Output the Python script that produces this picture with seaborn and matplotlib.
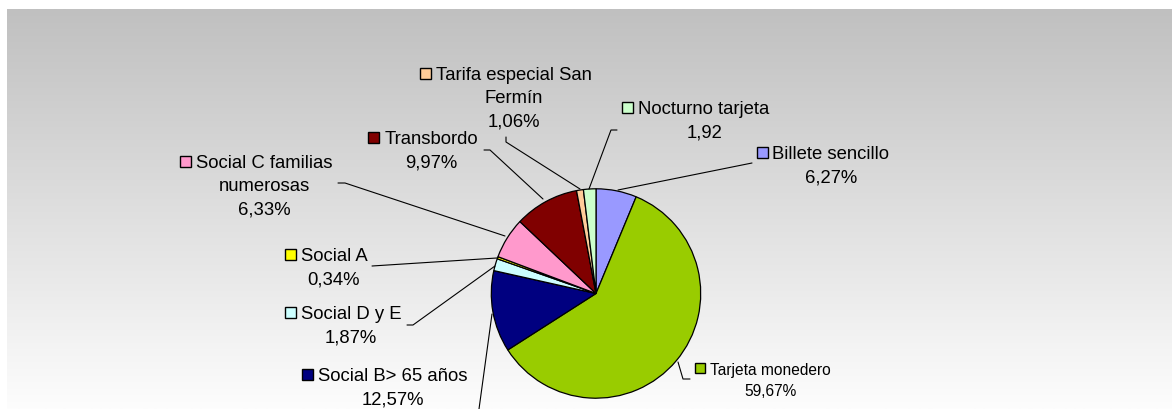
import numpy as np
import matplotlib
matplotlib.use("Agg")
import matplotlib.pyplot as plt
from matplotlib.patches import Rectangle
import seaborn as sns

# datos (porcentaje de viajes por tipo de título)
categorias = ["Billete sencillo", "Tarjeta monedero", "Social B> 65 años", "Social D y E",
              "Social A", "Social C familias numerosas", "Transbordo",
              "Tarifa especial San Fermín", "Nocturno tarjeta"]
porcentajes = [6.27, 59.67, 12.57, 1.87, 0.34, 6.33, 9.97, 1.06, 1.92]
etiquetas = ["Billete sencillo\n6,27%", "Tarjeta monedero\n59,67%", "Social B> 65 años\n12,57%",
             "Social D y E\n1,87%", "Social A\n0,34%", "Social C familias\nnumerosas\n6,33%",
             "Transbordo\n9,97%", "Tarifa especial San\nFermín\n1,06%", "Nocturno tarjeta\n1,92"]
colores = ["#9999FF", "#99CC00", "#000080", "#CCFFFF", "#FFFF00",
           "#FF99CC", "#800000", "#FFCC99", "#CCFFCC"]

# layout in pixels (from top-left): label centre x, first line centre y
W, H = 1172, 410
pos_etiquetas = [(831, 153), (770, 369), (393, 375), (351, 313), (334, 255),
                 (264, 162), (431, 138), (514, 74), (704, 108)]
tam_fuente = [13.3, 11.2, 13.3, 13.3, 13.3, 13.3, 13.3, 13.3, 13.3]
guias = [
    [(618, 191), (752, 164)],
    [(678, 363), (683, 380), (690, 380)],
    [(492, 315), (479, 410)],
    [(495, 267), (413, 326), (407, 326)],
    [(497, 259), (372, 267)],
    [(505, 237), (345, 184), (338, 184)],
    [(543, 200), (490, 151), (484, 151)],
    [(580, 190), (506, 143), (506, 138)],
    [(589, 190), (611, 131), (617, 131)],
]

sns.set_theme(style="white")
plt.rcParams['font.family'] = ['Liberation Sans', 'DejaVu Sans']

fig = plt.figure(figsize=(W / 100, H / 100), dpi=100)
fig.patch.set_facecolor("white")
ax = fig.add_axes([0, 0, 1, 1])

# gradient background
grad = np.linspace(192, 253, 256) / 255.0
img = np.repeat(grad[:, None], 2, axis=1)
img = np.dstack([img, img, img])
ax.imshow(img, extent=(7, W, 0, H - 10), aspect="auto", interpolation="bilinear", zorder=0)

ax.pie(porcentajes, colors=sns.color_palette(colores), startangle=90, counterclock=False,
       center=(596, H - 294.5), radius=104.7,
       wedgeprops=dict(edgecolor="black", linewidth=0.9))

for pts in guias:
    xs = [p[0] for p in pts]
    ys = [H - p[1] for p in pts]
    ax.plot(xs, ys, color="black", lw=0.8, zorder=3)

textos = []
for txt, (x, y), fs in zip(etiquetas, pos_etiquetas, tam_fuente):
    t = ax.text(x, H - (y - 0.39 * fs * 100 / 72), txt, ha="center", va="top",
                multialignment="center", fontsize=fs, linespacing=1.5,
                color="black", zorder=4)
    textos.append(t)

ax.set_xlim(0, W)
ax.set_ylim(0, H)
ax.set_aspect("auto")
ax.set_axis_off()

fig.canvas.draw()
r = fig.canvas.get_renderer()
for t, col, (x, y), fs in zip(textos, colores, pos_etiquetas, tam_fuente):
    bb = t.get_window_extent(renderer=r)
    s = 11 if fs > 12 else 10
    ax.add_patch(Rectangle((bb.x0 - 5 - s, H - y - s / 2), s, s, facecolor=col,
                           edgecolor="black", lw=1, zorder=4))

fig.savefig("out.png", dpi=100)
